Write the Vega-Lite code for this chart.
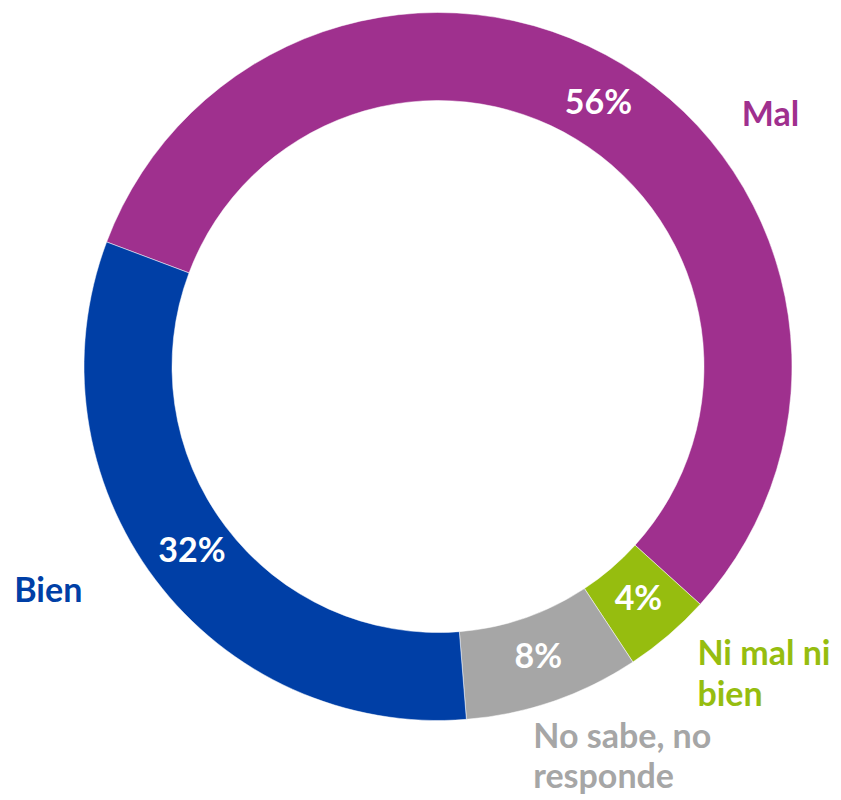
{
  "$schema": "https://vega.github.io/schema/vega-lite/v6.json",
  "width": 876,
  "height": 733,
  "padding": {"left": 0, "top": 0, "right": 0, "bottom": 67},
  "autosize": {"type": "none"},
  "background": "white",
  "view": {"stroke": null},
  "data": {"values": [
    {"cat": "Mal", "value": 56, "pct": "56%", "name": "Mal", "ord": 1},
    {"cat": "Ni mal ni bien", "value": 4, "pct": "4%", "name": "Ni mal ni\nbien", "ord": 2},
    {"cat": "No sabe, no responde", "value": 8, "pct": "8%", "name": "No sabe, no\nresponde", "ord": 3},
    {"cat": "Bien", "value": 32, "pct": "32%", "name": "Bien", "ord": 4}
  ]},
  "encoding": {
    "theta": {"field": "value", "type": "quantitative", "stack": true, "scale": {"domain": [0, 100], "range": [-1.2113, 5.0719]}},
    "order": {"field": "ord", "type": "quantitative", "sort": "ascending"},
    "color": {"field": "cat", "type": "nominal", "legend": null,
      "scale": {"domain": ["Mal", "Ni mal ni bien", "No sabe, no responde", "Bien"],
                "range": ["#9F308E", "#96BD0F", "#A6A6A6", "#003FA6"]}}
  },
  "layer": [
    {"mark": {"type": "arc", "radius": 354, "radius2": 266, "stroke": "white", "strokeWidth": 0.5}},
    {"mark": {"type": "text", "radius": 308, "font": "Lato", "fontWeight": "bold", "fontSize": 34, "align": "center", "baseline": "middle"},
     "encoding": {"text": {"field": "pct"}, "color": {"value": "white"}}},
    {"mark": {"type": "text", "radius": 354, "dx": 148, "dy": 52, "font": "Lato", "fontWeight": "bold", "fontSize": 34, "align": "center", "baseline": "middle"},
     "encoding": {"text": {"condition": {"test": "datum.cat === 'Mal'", "field": "name"}, "value": ""}}},
    {"mark": {"type": "text", "radius": 354, "dx": 29, "dy": 20, "font": "Lato", "fontWeight": "bold", "fontSize": 34, "align": "left", "baseline": "middle", "lineBreak": "\n", "lineHeight": 41},
     "encoding": {"text": {"condition": {"test": "datum.cat === 'Ni mal ni bien'", "field": "name"}, "value": ""}}},
    {"mark": {"type": "text", "radius": 354, "dx": -20, "dy": 37, "font": "Lato", "fontWeight": "bold", "fontSize": 34, "align": "left", "baseline": "middle", "lineBreak": "\n", "lineHeight": 40},
     "encoding": {"text": {"condition": {"test": "datum.cat === 'No sabe, no responde'", "field": "name"}, "value": ""}}},
    {"mark": {"type": "text", "radius": 354, "dx": -107, "dy": 12, "font": "Lato", "fontWeight": "bold", "fontSize": 34, "align": "center", "baseline": "middle"},
     "encoding": {"text": {"condition": {"test": "datum.cat === 'Bien'", "field": "name"}, "value": ""}}}
  ]
}
